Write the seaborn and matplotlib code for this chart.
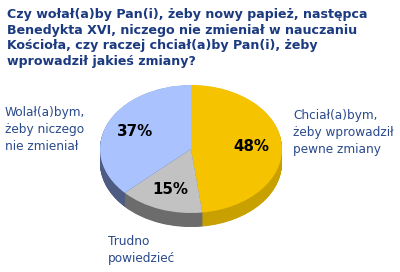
import matplotlib
matplotlib.use("Agg")
import matplotlib.pyplot as plt
import seaborn as sns
import numpy as np

sns.set_theme(style="white")
plt.rcParams['font.family'] = ['DejaVu Sans']

title = "Czy wołał(a)by Pan(i), żeby nowy papież, następca\nBenedykta XVI, niczego nie zmieniał w nauczaniu\nKościoła, czy raczej chciał(a)by Pan(i), żeby\nwprowadził jakieś zmiany?"
categories = ["Chciał(a)bym,\nżeby wprowadził\npewne zmiany", "Trudno\npowiedzieć", "Wolał(a)bym,\nżeby niczego\nnie zmieniał"]
values = [48, 15, 37]
top_colors = ["#F5C300", "#C2C2C2", "#AAC3FE"]
side_colors = ["#C8A000", "#6C6C6C", "#4E5B82"]

W, H = 400, 272
fig = plt.figure(figsize=(W / 100, H / 100), dpi=100)
fig.patch.set_facecolor("white")

cx, cy, rx, ry = 191, 149, 91, 64
aw, ah = 2.5 * rx, 2.5 * ry
ax = fig.add_axes([(cx - aw / 2) / W, (H - cy - ah / 2) / H, aw / W, ah / H])

depth = 14 / ry
n_layers = 40
for k in range(n_layers, 0, -1):
    off = -depth * k / n_layers
    ax.pie(values, colors=side_colors, startangle=90, counterclock=False,
           center=(0, off), wedgeprops=dict(linewidth=0, antialiased=True))

ax.pie(values, colors=top_colors, startangle=90, counterclock=False,
       autopct="%d%%", pctdistance=0.67,
       wedgeprops=dict(linewidth=0),
       textprops=dict(fontsize=10.8, fontweight="bold", color="black"))

ax.set_xlim(-1.25, 1.25)
ax.set_ylim(-1.25, 1.25)
ax.set_aspect("auto")
ax.axis("off")

def px(x, y):
    return x / W, 1 - y / H

title_color = "#1B3A80"
label_color = "#2A4A8C"
fig.text(*px(7, 8), title, ha="left", va="top", fontsize=9.1, fontweight="bold",
         color=title_color, linespacing=1.27)
fig.text(*px(5, 106), categories[2], ha="left", va="top", fontsize=8.7,
         color=label_color, linespacing=1.4)
fig.text(*px(293, 109), categories[0], ha="left", va="top", fontsize=8.7,
         color=label_color, linespacing=1.4)
fig.text(*px(108, 235), categories[1], ha="left", va="top", fontsize=8.7,
         color=label_color, linespacing=1.4)

fig.savefig("out.png", dpi=100, facecolor="white")
